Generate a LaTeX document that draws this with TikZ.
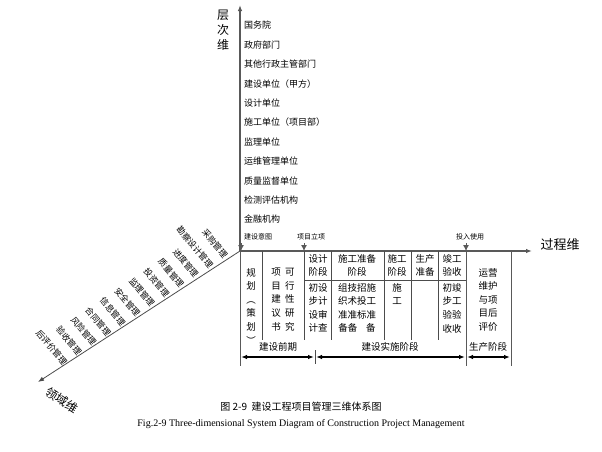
\documentclass[tikz,border=0pt]{standalone}
\usepackage{fontspec}
\setmainfont{Liberation Serif}
\newfontfamily\cjk{Noto Sans CJK SC}
\usetikzlibrary{arrows.meta}
\begin{document}
\begin{tikzpicture}[x=1pt,y=-1pt,
  ax/.style={draw=gray!70!black,line width=1.2pt},
  thin/.style={draw=black!70,line width=0.6pt},
  lvl/.style={anchor=west,font=\cjk\fontsize{9}{10}\selectfont,inner sep=0pt},
  cell/.style={align=center,font=\cjk\fontsize{9.5}{13.6}\selectfont,inner sep=0pt,anchor=north},
  dom/.style={font=\cjk\fontsize{8.5}{10}\selectfont,rotate=-50,inner sep=0pt,anchor=east},
  small/.style={font=\cjk\fontsize{7}{8}\selectfont,inner sep=0pt},
  big/.style={font=\cjk\fontsize{12}{13}\selectfont,inner sep=0pt}]
\useasboundingbox (0,0) rectangle (602,451);
\coordinate (O) at (240,251);
\coordinate (Ytop) at (240,5);
\coordinate (Xend) at (532,251);
\coordinate (Dend) at (38,382);
\draw[ax,-{Latex[length=6pt]}] (O) -- (Ytop);
\draw[ax,-{Latex[length=6pt]}] (O) -- (Xend);
\draw[thin,line width=0.8pt,-{Latex[length=6pt]}] (O) -- (Dend);
\node[big,align=center,font=\cjk\fontsize{12}{15}\selectfont] (yl) at (223,30) {层\\次\\维};
\node[big,font=\cjk\fontsize{13}{14}\selectfont] (xl) at (560,245) {过程维};
\node[big,rotate=-33] (dl) at (62,400) {领域维};
\foreach \t [count=\i] in {国务院,政府部门,其他行政主管部门,建设单位（甲方）,设计单位,施工单位（项目部）,监理单位,运维管理单位,质量监督单位,检测评估机构,金融机构}
  \node[lvl] (lv\i) at (244,{6+\i*19.4}) {\t};
\foreach \t [count=\i] in {采购管理,勘察设计管理,进度管理,质量管理,投资管理,监理管理,安全管理,信息管理,合同管理,风险管理,验收管理,后评价管理}
  \node[dom] (dm\i) at ({226-(\i-1)*14.6},{257+(\i-1)*9.7}) {\t};
\coordinate (c1) at (262,251);\coordinate (c2) at (304,251);\coordinate (c3) at (331,251);
\coordinate (c4) at (384,251);\coordinate (c5) at (411,251);\coordinate (c6) at (438,251);
\coordinate (c7) at (466,251);\coordinate (c8) at (511,251);
\draw[ax,line width=1pt] (O) -- (240,366);
\draw[thin] (c1) -- (262,340);
\draw[thin] (c2) -- (304,340);
\draw[thin] (c3) -- (331,340);
\draw[thin] (c4) -- (384,340);
\draw[thin] (c5) -- (411,340);
\draw[thin] (c6) -- (438,340);
\draw[ax,line width=1pt] (c7) -- (466,366);
\draw[ax,line width=1pt] (c8) -- (511,366);
\draw[thin] (304,280) -- (466,280);
\draw[thin] (315,350) -- (315,364);
\draw[line width=1.4pt,{Latex[length=6pt]}-{Latex[length=6pt]}] (241,357) -- (314,357);
\draw[line width=1.4pt,{Latex[length=6pt]}-{Latex[length=6pt]}] (316,357) -- (465,357);
\draw[line width=1.4pt,{Latex[length=6pt]}-{Latex[length=6pt]}] (467,357) -- (510,357);
\node[cell] (p1) at (278,342) {建设前期};
\node[cell] (p2) at (390,342) {建设实施阶段};
\node[cell] (p3) at (488,342) {生产阶段};
\node[small] (ms1) at (258,237) {建设意图};
\node[small] (ms2) at (311,237) {项目立项};
\node[small] (ms3) at (470,237) {投入使用};
\coordinate (a1) at (241,243);\coordinate (a2) at (304,243);\coordinate (a3) at (466,243);
\foreach \a in {a1,a2,a3} \draw[gray!70!black,line width=0.8pt,-{Latex[length=6pt,width=6pt]}] (\a) -- ++(0,8);
\node[cell] (t1) at (251,268) {规\\划\\︵\\策\\划\\︶};
\node[cell] (t2) at (283,268) {项\ \ 可\\目\ \ 行\\建\ \ 性\\议\ \ 研\\书\ \ 究};
\node[cell] (h3) at (318,254) {设计\\阶段};
\node[cell] (h4) at (357,254) {施工准备\\阶段};
\node[cell] (h5) at (397,254) {施工\\阶段};
\node[cell] (h6) at (425,254) {生产\\准备};
\node[cell] (h7) at (452,254) {竣工\\验收};
\node[cell] (b3) at (318,283) {初设\\步计\\设审\\计查};
\node[cell] (b4) at (357,283) {组技招施\\织术投工\\准准标准\\备备\ \ \ \ 备};
\node[cell] (b5) at (397,283) {施\\工};
\node[cell] (b7) at (452,283) {初竣\\步工\\验验\\收收};
\node[cell] (t8) at (488,268) {运营\\维护\\与项\\目后\\评价};
\node[font=\cjk\fontsize{10}{12}\selectfont] (cap1) at (301,407) {图 2-9\ \ 建设工程项目管理三维体系图};
\node[font=\fontsize{10}{12}\selectfont] (cap2) at (301,424) {Fig.2-9 Three-dimensional System Diagram of Construction Project Management};
\end{tikzpicture}
\end{document}
